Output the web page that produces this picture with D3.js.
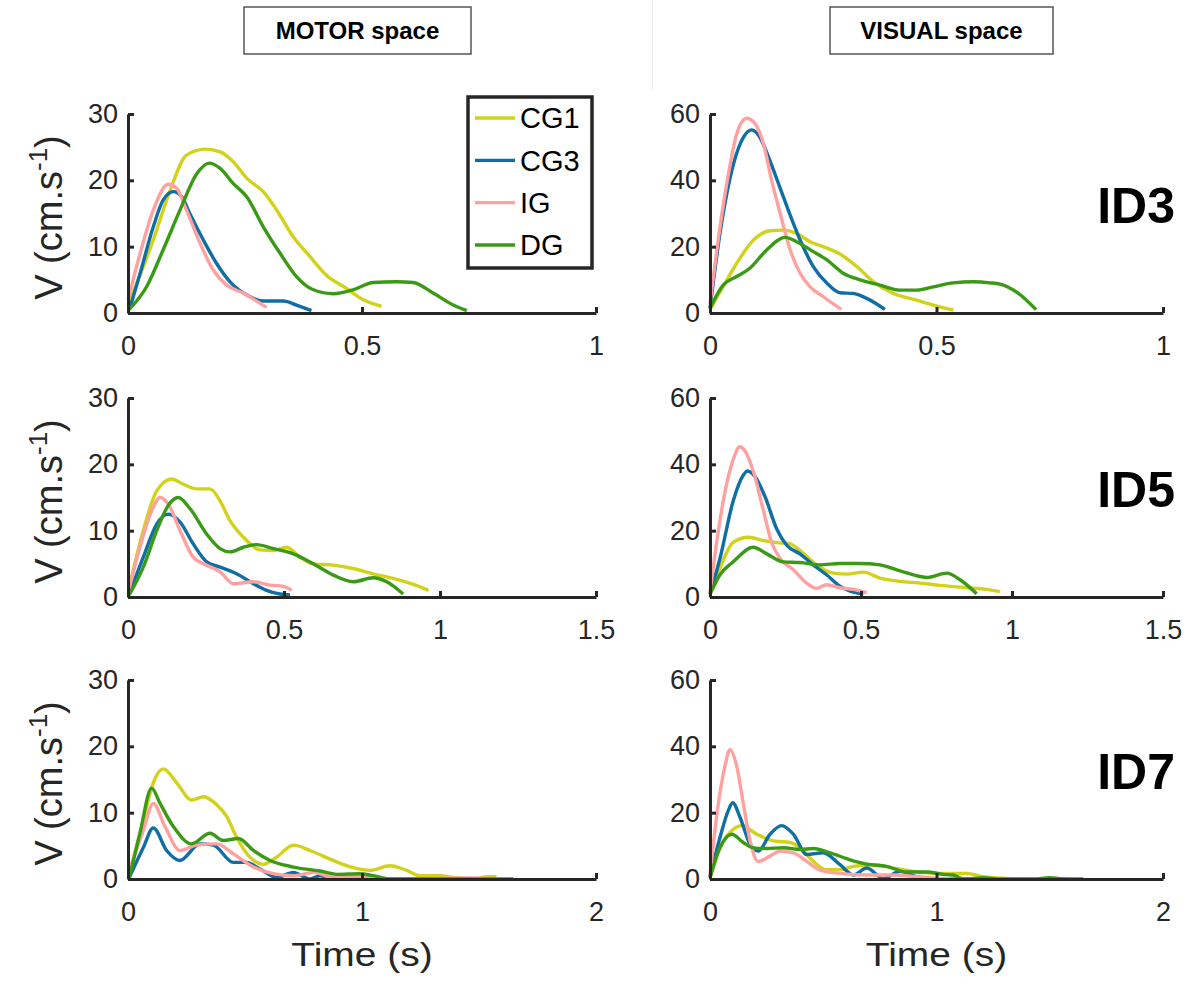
<!DOCTYPE html>
<html>
<head>
<meta charset="utf-8">
<script src="https://cdn.jsdelivr.net/npm/d3@7"></script>
<style>
  body { margin: 0; background: #fff; }
  text { font-family: "Liberation Sans", Arial, Helvetica, sans-serif; }
</style>
</head>
<body>
<div id="chart"></div>
<script>
// groups, in legend order
const groups = ["CG1", "CG3", "IG", "DG"];
const colors = { CG1: "#d2d21a", CG3: "#106ea4", IG: "#ffa1a1", DG: "#3a9a16" };

const columnTitles = ["MOTOR space", "VISUAL space"];
const rowTitles = ["ID3", "ID5", "ID7"];
const xMaxByRow = [1, 1.5, 2];
const xTicksByRow = [[0, 0.5, 1], [0, 0.5, 1, 1.5], [0, 1, 2]];
const yMaxByCol = [30, 60];
const yTicksByCol = [[0, 10, 20, 30], [0, 20, 40, 60]];

// velocity profiles: [time (s), V (cm/s)]
const motorID3 = {
  CG1: [[0,1.2],[0.054,11],[0.09,18.5],[0.125,23.8],[0.165,24.7],[0.197,24.3],[0.225,22.8],[0.254,20.3],[0.289,18.3],[0.318,15.5],[0.353,11.5],[0.389,8.5],[0.424,5.7],[0.467,3.7],[0.503,2.0],[0.542,1.0]],
  CG3: [[0.003,0.5],[0.026,6],[0.054,13],[0.075,17],[0.097,18.3],[0.115,17.5],[0.132,15],[0.161,11],[0.189,7.5],[0.218,4.7],[0.254,2.7],[0.289,1.8],[0.332,1.8],[0.36,1.2],[0.392,0.35]],
  IG:  [[0,2],[0.026,9],[0.054,15.5],[0.086,19.4],[0.104,18.8],[0.125,15.5],[0.154,10.5],[0.182,6.5],[0.211,4.2],[0.246,3.0],[0.296,0.85]],
  DG:  [[0,0.35],[0.04,4],[0.075,9.5],[0.111,15.5],[0.147,21],[0.174,22.6],[0.197,21.8],[0.225,19.5],[0.254,17.5],[0.289,13],[0.325,9],[0.36,5.5],[0.396,3.5],[0.439,2.9],[0.481,3.5],[0.524,4.6],[0.574,4.7],[0.609,4.6],[0.652,3],[0.695,1.2],[0.724,0.35]]
};
const visualID3 = {
  CG1: [[0,1.1],[0.029,8],[0.059,15],[0.096,22],[0.132,24.8],[0.162,25],[0.191,24],[0.221,21.5],[0.25,20],[0.287,17.8],[0.324,14],[0.361,9.4],[0.405,5.9],[0.456,3.9],[0.493,2.4],[0.537,0.9]],
  CG3: [[0,1.4],[0.022,24],[0.052,45],[0.074,53],[0.092,55.2],[0.11,53],[0.132,46],[0.155,37.6],[0.177,29.5],[0.199,22],[0.228,14],[0.258,9],[0.287,6.1],[0.316,5.9],[0.346,4.4],[0.386,1.1]],
  IG:  [[0,2.9],[0.015,19],[0.037,39],[0.059,54],[0.081,58.7],[0.099,57.2],[0.118,51],[0.136,40],[0.155,30],[0.177,19],[0.199,12],[0.221,7.9],[0.25,4.9],[0.29,1.1]],
  DG:  [[0,1.4],[0.029,8.4],[0.059,11],[0.088,13.5],[0.125,19],[0.166,22.8],[0.191,21.5],[0.228,18.5],[0.258,16],[0.294,12],[0.331,10],[0.375,8.4],[0.419,6.9],[0.456,6.9],[0.493,7.9],[0.537,9.1],[0.581,9.4],[0.618,9.1],[0.64,8.7],[0.68,6],[0.72,1]]
};
const motorID5 = {
  CG1: [[0.004,1.5],[0.049,10],[0.092,16],[0.14,17.8],[0.177,17],[0.22,16.3],[0.263,16.3],[0.295,14.5],[0.327,11.5],[0.37,9],[0.423,7.1],[0.466,7],[0.509,7.5],[0.551,6],[0.594,5],[0.658,4.8],[0.722,4.3],[0.786,3.5],[0.85,2.8],[0.915,1.9],[0.963,1]],
  CG3: [[0.004,0.5],[0.049,6],[0.092,11],[0.129,12.5],[0.167,11.3],[0.209,8],[0.252,5.3],[0.295,4.5],[0.348,3.5],[0.402,2],[0.444,1],[0.487,0.45],[0.519,0.3]],
  IG:  [[0.004,1.3],[0.038,7.5],[0.076,13],[0.103,15],[0.129,14],[0.167,10],[0.209,6],[0.252,4.8],[0.295,3.8],[0.338,2],[0.402,2.3],[0.455,1.8],[0.498,1.6],[0.525,1]],
  DG:  [[0.004,0.3],[0.049,4.5],[0.092,10],[0.129,13.8],[0.161,15],[0.199,13.3],[0.252,9.5],[0.295,7.3],[0.327,6.8],[0.37,7.5],[0.412,7.9],[0.466,7.3],[0.53,6.5],[0.594,5],[0.658,3.3],[0.722,2.3],[0.786,2.9],[0.829,2.3],[0.882,0.45]]
};
const visualID5 = {
  CG1: [[0,0.8],[0.033,8.7],[0.077,16.5],[0.127,18],[0.177,17],[0.221,16.4],[0.265,16],[0.298,14],[0.353,9.7],[0.408,7.2],[0.453,6.9],[0.508,7.5],[0.563,5.7],[0.629,4.7],[0.695,4.2],[0.762,3.5],[0.85,2.8],[0.916,2.3],[0.96,1.6]],
  CG3: [[0,1],[0.033,11.6],[0.077,29],[0.11,36.7],[0.124,38],[0.149,36.3],[0.182,30.3],[0.221,20.5],[0.254,15.6],[0.298,13],[0.342,9.7],[0.386,6.7],[0.43,3.3],[0.464,1.8],[0.508,1]],
  IG:  [[0,1.3],[0.022,16.5],[0.055,34],[0.083,43],[0.097,45.3],[0.116,44],[0.143,38],[0.177,26],[0.204,16.5],[0.232,11.6],[0.276,8.2],[0.32,4.2],[0.353,2.6],[0.386,3.7],[0.43,2.8],[0.475,2.3],[0.519,1.3]],
  DG:  [[0,0.8],[0.033,6.7],[0.077,10.6],[0.143,15],[0.188,13],[0.243,10.6],[0.298,10.4],[0.364,9.7],[0.43,10.1],[0.497,10.1],[0.563,9.7],[0.629,7.9],[0.717,5.9],[0.784,7.2],[0.828,5.2],[0.883,1]]
};
const motorID7 = {
  CG1: [[0.006,0.8],[0.066,8.9],[0.108,14.5],[0.151,16.6],[0.208,14.5],[0.272,11.9],[0.322,12.4],[0.379,11.2],[0.422,9.4],[0.464,6.3],[0.521,3.3],[0.578,2.2],[0.635,3.3],[0.707,5.1],[0.778,4.3],[0.877,2.8],[0.963,1.7],[1.034,1.3],[1.12,2],[1.191,1.3],[1.248,0.5],[1.333,0.5],[1.39,0.25],[1.476,0],[1.533,0.35],[1.575,0.35]],
  CG3: [[0.006,0.25],[0.066,4.8],[0.108,7.7],[0.165,4.3],[0.222,2.8],[0.308,5.3],[0.365,5.1],[0.45,2.5],[0.507,2.5],[0.564,1.5],[0.635,0.25],[0.707,1],[0.778,0],[0.821,0.5],[0.892,0],[0.963,0.25],[1.048,0],[1.105,0],[1.53,0]],
  IG:  [[0.006,1.3],[0.066,7.4],[0.108,11.4],[0.158,7.9],[0.222,4.3],[0.293,5.1],[0.379,5.3],[0.45,3.8],[0.536,1.8],[0.621,0.8],[0.707,0.5],[0.792,1],[0.877,0.25],[0.963,0.35],[1.048,0.25],[1.12,0],[1.248,0],[1.46,0.15],[1.56,0]],
  DG:  [[0.006,0.25],[0.051,6.9],[0.101,13.7],[0.137,11.4],[0.194,7.9],[0.272,5.3],[0.35,6.9],[0.407,5.8],[0.472,6.1],[0.536,4.3],[0.607,2.8],[0.707,1.8],[0.821,1.2],[0.892,0.7],[0.991,0.8],[1.048,0.5],[1.12,0],[1.248,0],[1.39,0],[1.647,0]]
};
const visualID7 = {
  CG1: [[0,0.2],[0.044,9.4],[0.103,15],[0.14,16.1],[0.206,13.5],[0.28,11.5],[0.353,11],[0.397,9.4],[0.456,5.3],[0.515,2.8],[0.574,2.8],[0.633,3.8],[0.721,4.3],[0.809,3.3],[0.898,2.3],[1.015,1.7],[1.133,1.7],[1.207,0.7],[1.31,0.2],[1.428,0],[1.516,0.2],[1.59,0]],
  CG3: [[0,0.7],[0.044,12.5],[0.081,20.7],[0.1,23],[0.132,18.7],[0.177,10.5],[0.213,8.4],[0.265,13.5],[0.316,16.1],[0.368,13.5],[0.427,7.4],[0.5,7.9],[0.574,4.3],[0.633,1.2],[0.692,3.3],[0.765,0.2],[0.839,2.3],[0.912,0.7],[0.986,0],[1.074,0.2],[1.16,0],[1.2,0]],
  IG:  [[0,1.2],[0.029,18.7],[0.066,34],[0.088,39],[0.118,34],[0.147,22.8],[0.177,11.5],[0.213,5.3],[0.265,6.9],[0.309,8.4],[0.368,7.9],[0.427,5.3],[0.486,2.7],[0.574,1.7],[0.692,1.2],[0.809,1.2],[0.912,0.7],[1.015,0.2],[1.118,0],[1.207,0]],
  DG:  [[0,0.4],[0.044,9.4],[0.096,13.5],[0.147,11],[0.191,9.4],[0.25,9.2],[0.324,9.4],[0.397,8.9],[0.456,9.2],[0.53,7.9],[0.618,5.8],[0.692,4.5],[0.78,3.8],[0.868,2.1],[0.957,2.1],[1.03,1.4],[1.074,1.2],[1.118,0],[1.207,0.4],[1.28,0],[1.428,0],[1.5,0.4],[1.575,0],[1.648,0]]
};
const panels = [
  [motorID3, visualID3],
  [motorID5, visualID5],
  [motorID7, visualID7]
];

const width = 1194, height = 987;
const cols = [{ x0: 128, x1: 596 }, { x0: 710, x1: 1163 }];
const rowBottoms = [313, 597, 879];
const plotH = 199;
const axisColor = "#262626";

const svg = d3.select("#chart").append("svg")
  .attr("width", width).attr("height", height)
  .attr("viewBox", `0 0 ${width} ${height}`);

// faint separator at the top between the two headers
svg.append("line").attr("x1", 652.5).attr("x2", 652.5).attr("y1", 0).attr("y2", 90)
  .attr("stroke", "#ececec").attr("stroke-width", 1);

// column headers
const headerBoxes = [{ x: 244, w: 227 }, { x: 830, w: 223 }];
columnTitles.forEach((t, i) => {
  const b = headerBoxes[i];
  svg.append("rect").attr("x", b.x).attr("y", 7).attr("width", b.w).attr("height", 47)
    .attr("fill", "#fff").attr("stroke", "#555").attr("stroke-width", 1.5);
  svg.append("text").attr("x", b.x + b.w / 2).attr("y", 39)
    .attr("text-anchor", "middle")
    .style("font-family", '"Liberation Sans Narrow", "Arial Narrow", "Liberation Sans", sans-serif')
    .style("font-weight", "bold").style("font-size", "24px")
    .text(t);
});

const line = d3.line().curve(d3.curveMonotoneX);

rowBottoms.forEach((yb, r) => {
  cols.forEach((c, ci) => {
    const x = d3.scaleLinear().domain([0, xMaxByRow[r]]).range([c.x0, c.x1]);
    const y = d3.scaleLinear().domain([0, yMaxByCol[ci]]).range([yb, yb - plotH]);
    const g = svg.append("g");

    const data = panels[r][ci];
    groups.forEach(k => {
      g.append("path")
        .attr("d", line.x(d => x(d[0])).y(d => y(d[1]))(data[k]))
        .attr("fill", "none")
        .attr("stroke", colors[k])
        .attr("stroke-width", 3.4)
        .attr("stroke-linejoin", "round");
    });

    const xa = g.append("g").attr("transform", `translate(0,${yb})`)
      .call(d3.axisBottom(x).tickValues(xTicksByRow[r]).tickFormat(d3.format("~g"))
        .tickSizeInner(-6).tickSizeOuter(0).tickPadding(23));
    const ya = g.append("g").attr("transform", `translate(${c.x0},0)`)
      .call(d3.axisLeft(y).tickValues(yTicksByCol[ci])
        .tickSizeInner(-6).tickSizeOuter(0).tickPadding(10));

    [xa, ya].forEach(a => {
      a.select(".domain").attr("stroke", axisColor).attr("stroke-width", 3);
      a.selectAll(".tick line").attr("stroke", axisColor).attr("stroke-width", 3);
      a.selectAll(".tick text").attr("fill", axisColor)
        .style("font-family", '"Liberation Sans", Arial, sans-serif').style("font-size", "27px");
    });

    if (ci === 0) {
      const ylab = svg.append("text")
        .attr("transform", `translate(62,${yb - plotH / 2 + 4}) rotate(-90)`)
        .attr("text-anchor", "middle")
        .attr("fill", axisColor)
        .style("font-size", "38px");
      ylab.append("tspan").text("V (cm.s");
      ylab.append("tspan").attr("dy", -15).style("font-size", "26px").text("-1");
      ylab.append("tspan").attr("dy", 15).text(")");
    }
    if (r === 2) {
      svg.append("text")
        .attr("transform", `translate(${(c.x0 + c.x1) / 2},966) scale(1.18,1)`)
        .attr("text-anchor", "middle").attr("fill", axisColor)
        .style("font-size", "33px").text("Time (s)");
    }
    if (ci === 1) {
      svg.append("text").attr("x", 1175).attr("y", yb - 90)
        .attr("text-anchor", "end").attr("fill", "#000")
        .style("font-weight", "bold").style("font-size", "50px")
        .text(rowTitles[r]);
    }
  });
});

// legend inside the first panel
const legend = svg.append("g");
legend.append("rect").attr("x", 468).attr("y", 97).attr("width", 124).attr("height", 171)
  .attr("fill", "#fff").attr("stroke", axisColor).attr("stroke-width", 3.5);
const ly = d3.scalePoint().domain(groups).range([118, 245]);
groups.forEach(k => {
  legend.append("line").attr("x1", 475).attr("x2", 515).attr("y1", ly(k)).attr("y2", ly(k))
    .attr("stroke", colors[k]).attr("stroke-width", 3.4);
  legend.append("text").attr("x", 520).attr("y", ly(k)).attr("dy", "0.36em")
    .attr("fill", "#000").style("font-size", "29px").text(k);
});
</script>
</body>
</html>
